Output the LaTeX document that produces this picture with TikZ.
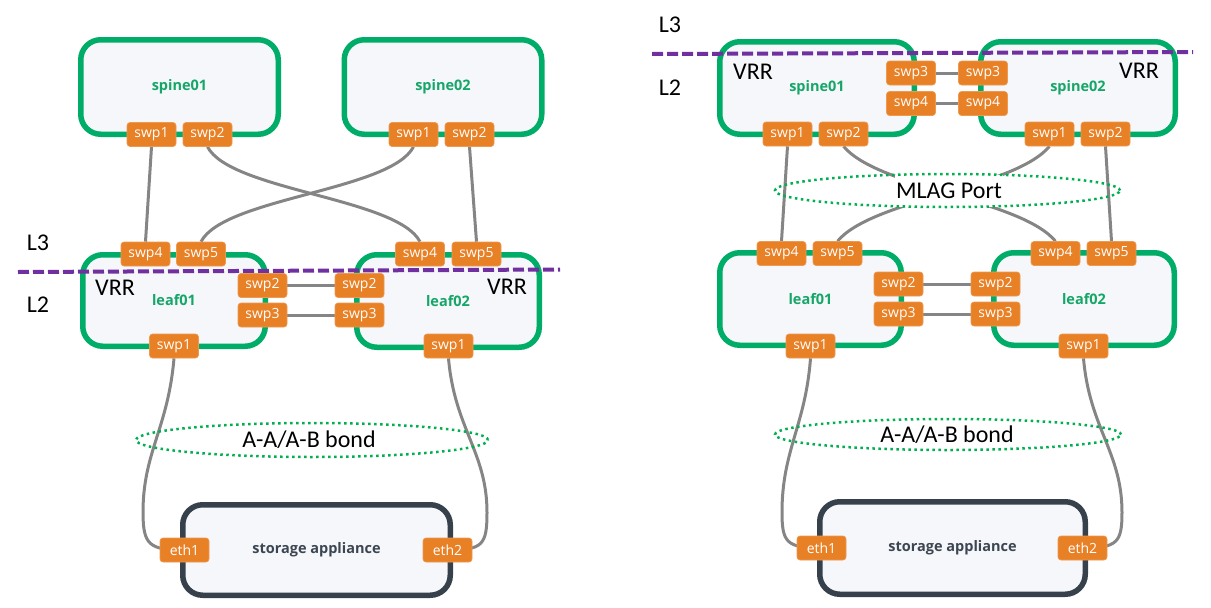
\documentclass[tikz,border=0pt]{standalone}
\usepackage{fontspec}
\setmainfont{Carlito}
\newfontfamily\uifont{Open Sans}
\usetikzlibrary{shapes.geometric,backgrounds}
\definecolor{boxgreen}{RGB}{0,173,104}
\definecolor{boxfill}{RGB}{245,247,250}
\definecolor{portorange}{RGB}{232,128,38}
\definecolor{labelgreen}{RGB}{22,166,104}
\definecolor{cablegray}{RGB}{133,133,133}
\definecolor{darkbox}{RGB}{54,65,75}
\definecolor{darktext}{RGB}{60,70,82}
\definecolor{dotgreen}{RGB}{0,176,80}
\definecolor{vrrpurple}{RGB}{112,48,160}
\tikzset{
  devbox/.style={draw=boxgreen, line width=5.5pt, fill=boxfill, rounded corners=20pt,
    inner sep=0pt, text=labelgreen, font=\uifont\bfseries\fontsize{14.5}{16}\selectfont},
  storebox/.style={draw=darkbox, line width=5.5pt, fill=boxfill, rounded corners=20pt,
    inner sep=0pt, text=darktext, font=\uifont\bfseries\fontsize{14.5}{16}\selectfont},
  port/.style={fill=portorange, draw=portorange!80!white, line width=0.6pt, rounded corners=3pt,
    minimum width=49pt, minimum height=24pt, inner sep=0pt, text=white,
    font=\uifont\fontsize{14}{15}\selectfont},
  cable/.style={draw=cablegray, line width=3pt},
  biglabel/.style={font=\fontsize{24}{28}\selectfont, text=black, inner sep=0pt},
  bond/.style={draw=dotgreen, line width=2.5pt, dash pattern=on 2.5pt off 3.5pt},
  layerline/.style={draw=vrrpurple, line width=4pt, dash pattern=on 11pt off 4pt},
}
\begin{document}
\begin{tikzpicture}[x=1pt,y=-1pt]
\useasboundingbox (0,0) rectangle (1211,608);

% ===================== LEFT DIAGRAM =====================
\node[devbox, minimum width=197.5pt, minimum height=94.5pt] (Ls1) at (179.5,87) {spine01};
\node[devbox, minimum width=197.5pt, minimum height=94.5pt] (Ls2) at (443,87) {spine02};
\node[devbox, minimum width=182.5pt, minimum height=91.5pt] (Ll1) at (174,300.5) {leaf01};
\node[devbox, minimum width=182.5pt, minimum height=92.5pt] (Ll2) at (448,301) {leaf02};
\node[storebox, minimum width=267.5pt, minimum height=90.5pt] (Lst) at (316.5,550) {storage appliance};

\node[port] (Ls1p1) at (151.5,134.5) {swp1};
\node[port] (Ls1p2) at (207.5,134.5) {swp2};
\node[port] (Ls2p1) at (413.5,134.5) {swp1};
\node[port] (Ls2p2) at (469.5,134.5) {swp2};
\node[port] (Ll1p4) at (145.5,254) {swp4};
\node[port] (Ll1p5) at (201,254) {swp5};
\node[port] (Ll1p2) at (262.5,285.5) {swp2};
\node[port] (Ll1p3) at (262.5,315) {swp3};
\node[port] (Ll1p1) at (174,346) {swp1};
\node[port] (Ll2p4) at (420,254) {swp4};
\node[port] (Ll2p5) at (476.5,254) {swp5};
\node[port] (Ll2p2) at (359.5,285.5) {swp2};
\node[port] (Ll2p3) at (359.5,315) {swp3};
\node[port] (Ll2p1) at (448.5,346) {swp1};
\node[port] (Leth1) at (184.5,550) {eth1};
\node[port] (Leth2) at (447.5,550) {eth2};

\begin{pgfonlayer}{background}
\draw[cable] (Ls1p1.south) -- (Ll1p4.north);
\draw[cable] (Ls2p2.south) -- (Ll2p5.north);
\draw[cable] (Ls1p2.south) .. controls +(23,44) and +(-23,-44) .. (Ll2p4.north);
\draw[cable] (Ls2p1.south) .. controls +(-23,44) and +(23,-44) .. (Ll1p5.north);
\draw[cable] (Ll1p2) -- (Ll2p2);
\draw[cable] (Ll1p3) -- (Ll2p3);
\draw[cable] (Ll1p1.south) .. controls +(-6,70) and +(0,-60) .. ++(-31,154)
  .. controls +(0,33) and +(-35,0) .. (Leth1.center);
\draw[cable] (Ll2p1.south) .. controls +(6,70) and +(0,-60) .. ++(38.5,154)
  .. controls +(0,33) and +(35,0) .. (Leth2.center);
\end{pgfonlayer}

\node[biglabel] (LbondT) at (309,440) {A-A/A-B bond};
\draw[bond] (312,440) ellipse [x radius=176pt, y radius=17pt];

\node[biglabel] (LL3) at (38,243) {L3};
\node[biglabel] (LL2) at (38,305) {L2};
\node[biglabel] (Lvrr1) at (115,288) {VRR};
\node[biglabel] (Lvrr2) at (507,287) {VRR};
\coordinate (Ldl) at (18,272);
\coordinate (Ldr) at (560,269.5);
\draw[layerline] (Ldl) -- (Ldr);

% ===================== RIGHT DIAGRAM =====================
\node[devbox, minimum width=194.5pt, minimum height=92.5pt] (Rs1) at (817,88) {spine01};
\node[devbox, minimum width=194.5pt, minimum height=92.5pt] (Rs2) at (1078,88) {spine02};
\node[devbox, minimum width=181.5pt, minimum height=92.5pt] (Rl1) at (810.5,299) {leaf01};
\node[devbox, minimum width=180.5pt, minimum height=92.5pt] (Rl2) at (1084,299) {leaf02};
\node[storebox, minimum width=265.5pt, minimum height=92.5pt] (Rst) at (952.5,548) {storage appliance};

\node[port] (Rs1p1) at (787.5,134) {swp1};
\node[port] (Rs1p2) at (843.5,134) {swp2};
\node[port] (Rs1p3) at (911,73) {swp3};
\node[port] (Rs1p4) at (911,103.5) {swp4};
\node[port] (Rs2p1) at (1049.5,134) {swp1};
\node[port] (Rs2p2) at (1105.5,134) {swp2};
\node[port] (Rs2p3) at (983,73) {swp3};
\node[port] (Rs2p4) at (983,103.5) {swp4};
\node[port] (Rl1p4) at (781.5,253.5) {swp4};
\node[port] (Rl1p5) at (837.5,253.5) {swp5};
\node[port] (Rl1p2) at (898.5,284) {swp2};
\node[port] (Rl1p3) at (898.5,314) {swp3};
\node[port] (Rl1p1) at (810.5,346) {swp1};
\node[port] (Rl2p4) at (1055.5,253.5) {swp4};
\node[port] (Rl2p5) at (1111.5,253.5) {swp5};
\node[port] (Rl2p2) at (995.5,284) {swp2};
\node[port] (Rl2p3) at (995.5,314) {swp3};
\node[port] (Rl2p1) at (1083.5,346) {swp1};
\node[port] (Reth1) at (821.5,548) {eth1};
\node[port] (Reth2) at (1082.5,548) {eth2};

\begin{pgfonlayer}{background}
\draw[cable] (Rs1p1.south) -- (Rl1p4.north);
\draw[cable] (Rs2p2.south) -- (Rl2p5.north);
\draw[cable] (Rs1p2.south) .. controls +(35,42) and +(-35,-42) .. (Rl2p4.north);
\draw[cable] (Rs2p1.south) .. controls +(-35,42) and +(35,-42) .. (Rl1p5.north);
\draw[cable] (Rs1p3) -- (Rs2p3);
\draw[cable] (Rs1p4) -- (Rs2p4);
\draw[cable] (Rl1p2) -- (Rl2p2);
\draw[cable] (Rl1p3) -- (Rl2p3);
\draw[cable] (Rl1p1.south) .. controls +(-5,67) and +(0,-62) .. ++(-28.5,154)
  .. controls +(0,30) and +(-35,0) .. (Reth1.center);
\draw[cable] (Rl2p1.south) .. controls +(6,70) and +(0,-60) .. ++(38.5,154)
  .. controls +(0,30) and +(35,0) .. (Reth2.center);
\end{pgfonlayer}

\node[biglabel, fill=white, inner xsep=1.5pt, inner ysep=8pt] (RmlagT) at (949,191) {MLAG Port};
\draw[bond] (947.5,190.5) ellipse [x radius=172.5pt, y radius=16.5pt];
\node[biglabel] (RbondT) at (947,435) {A-A/A-B bond};
\draw[bond] (948,434.5) ellipse [x radius=173pt, y radius=15.5pt];

\node[biglabel] (RL3) at (670,25) {L3};
\node[biglabel] (RL2) at (670,88) {L2};
\node[biglabel] (Rvrr1) at (753,72) {VRR};
\node[biglabel] (Rvrr2) at (1139,71) {VRR};
\coordinate (Rdl) at (652,54);
\coordinate (Rdr) at (1193,52);
\draw[layerline] (Rdl) -- (Rdr);
\end{tikzpicture}
\end{document}
